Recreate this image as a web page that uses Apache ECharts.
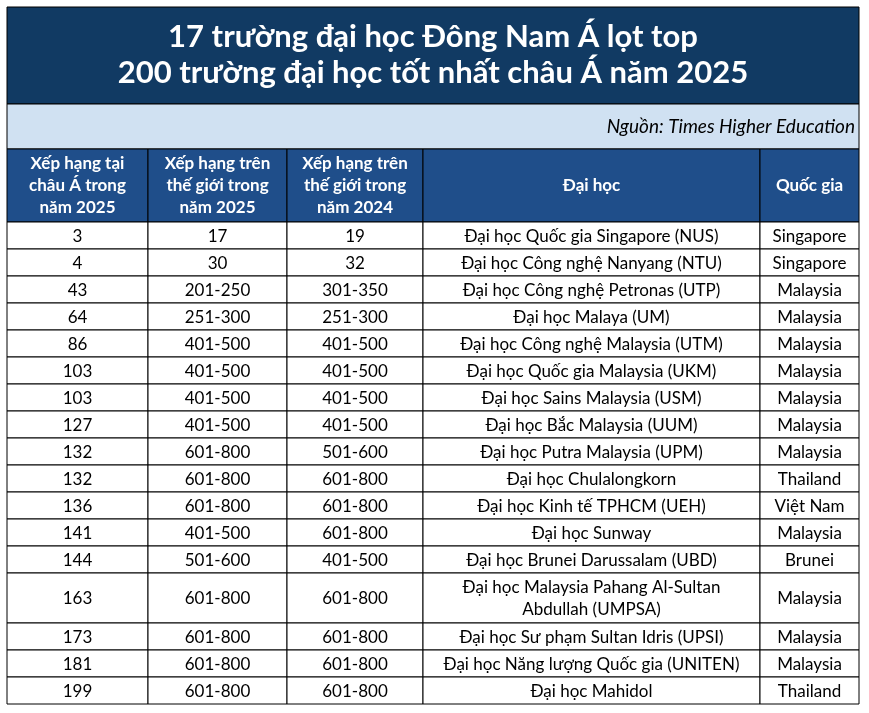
<!DOCTYPE html>
<html><head><meta charset="utf-8">
<script src="https://cdn.jsdelivr.net/npm/echarts@6/dist/echarts.min.js"></script>
<style>html,body{margin:0;padding:0;background:#fff}#c{width:869px;height:713px}</style>
</head><body><div id="c"></div>
<script>
const titleLines = ["17 trường đại học Đông Nam Á lọt top", "200 trường đại học tốt nhất châu Á năm 2025"];
const sourceText = "Nguồn: Times Higher Education";
const headers = ["Xếp hạng tại\nchâu Á trong\nnăm 2025", "Xếp hạng trên\nthế giới trong\nnăm 2025", "Xếp hạng trên\nthế giới trong\nnăm 2024", "Đại học", "Quốc gia"];
const asiaRank2025 = ["3","4","43","64","86","103","103","127","132","132","136","141","144","163","173","181","199"];
const worldRank2025 = ["17","30","201-250","251-300","401-500","401-500","401-500","401-500","601-800","601-800","601-800","401-500","501-600","601-800","601-800","601-800","601-800"];
const worldRank2024 = ["19","32","301-350","251-300","401-500","401-500","401-500","401-500","501-600","601-800","601-800","601-800","401-500","601-800","601-800","601-800","601-800"];
const universities = ["Đại học Quốc gia Singapore (NUS)","Đại học Công nghệ Nanyang (NTU)","Đại học Công nghệ Petronas (UTP)","Đại học Malaya (UM)","Đại học Công nghệ Malaysia (UTM)","Đại học Quốc gia Malaysia (UKM)","Đại học Sains Malaysia (USM)","Đại học Bắc Malaysia (UUM)","Đại học Putra Malaysia (UPM)","Đại học Chulalongkorn","Đại học Kinh tế TPHCM (UEH)","Đại học Sunway","Đại học Brunei Darussalam (UBD)","Đại học Malaysia Pahang Al-Sultan\nAbdullah (UMPSA)","Đại học Sư phạm Sultan Idris (UPSI)","Đại học Năng lượng Quốc gia (UNITEN)","Đại học Mahidol"];
const countries = ["Singapore","Singapore","Malaysia","Malaysia","Malaysia","Malaysia","Malaysia","Malaysia","Malaysia","Thailand","Việt Nam","Malaysia","Brunei","Malaysia","Malaysia","Malaysia","Thailand"];

const colX = [7,148,287,423,760,859];
const rowH = [27,27,27,27,27,27,27,27,27,27,27,27,27,50,27,27,27];
const F = "Lato, 'Liberation Sans', sans-serif";
const els = [];
els.push({type:'rect',shape:{x:7,y:7,width:852,height:97},style:{fill:'#113a63',stroke:'#000',lineWidth:1}});
els.push({type:'text',x:433,y:55,style:{text:titleLines.join('\n'),fill:'#fff',font:"bold 31px "+F,align:'center',verticalAlign:'middle',lineHeight:36}});
els.push({type:'rect',shape:{x:7,y:104,width:852,height:45},style:{fill:'#d0e1f2',stroke:'#000',lineWidth:1}});
els.push({type:'text',x:855,y:127,style:{text:sourceText,fill:'#000',font:"italic 19px "+F,align:'right',verticalAlign:'middle'}});
for(let c=0;c<5;c++){
  els.push({type:'rect',shape:{x:colX[c],y:149,width:colX[c+1]-colX[c],height:73},style:{fill:'#1f4e8a',stroke:'#000',lineWidth:1}});
  els.push({type:'text',x:(colX[c]+colX[c+1])/2,y:186,style:{text:headers[c],fill:'#fff',font:"bold 17px "+F,align:'center',verticalAlign:'middle',lineHeight:22}});
}
const cols=[asiaRank2025,worldRank2025,worldRank2024,universities,countries];
let y=222;
for(let r=0;r<asiaRank2025.length;r++){
  for(let c=0;c<5;c++){
    els.push({type:'rect',shape:{x:colX[c],y:y,width:colX[c+1]-colX[c],height:rowH[r]},style:{fill:'#fff',stroke:'#000',lineWidth:1}});
    els.push({type:'text',x:(colX[c]+colX[c+1])/2,y:y+rowH[r]/2+1,style:{text:cols[c][r],fill:'#000',font:"17px "+F,align:'center',verticalAlign:'middle',lineHeight:22}});
  }
  y+=rowH[r];
}
const chart=echarts.init(document.getElementById('c'));
chart.setOption({animation:false,graphic:{elements:els}});
</script></body></html>
